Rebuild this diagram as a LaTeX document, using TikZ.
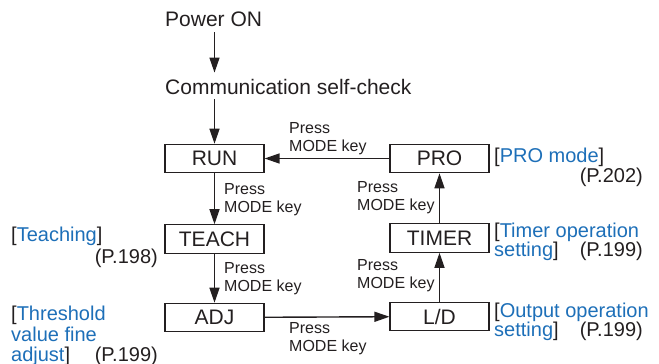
\documentclass[tikz,border=0pt]{standalone}
\usepackage{fontspec}
\setmainfont{Liberation Sans}
\usetikzlibrary{arrows.meta}
\definecolor{ink}{HTML}{231F20}
\definecolor{linkblue}{HTML}{1D6FB8}
\begin{document}
\begin{tikzpicture}[x=1pt,y=-1pt,
  every node/.style={inner sep=0pt, text=ink},
  maintext/.style={font=\fontsize{21}{24}\selectfont, anchor=base west},
  modebox/.style={draw=ink, line width=1.1pt, minimum width=99pt, minimum height=28.5pt, font=\fontsize{21}{24}\selectfont},
  presslbl/.style={font=\fontsize{16}{17.5}\selectfont, align=left, anchor=north west},
  note/.style={font=\fontsize{20}{21}\selectfont, anchor=base west},
  pref/.style={font=\fontsize{20}{21}\selectfont, anchor=base east},
  flow/.style={draw=ink, line width=1.4pt, -{Triangle[length=15pt,width=10pt]}},
]
\useasboundingbox (0,0) rectangle (659,364);

% start texts
\node[maintext] (power) at (165,27) {Power ON};
\node[maintext] (comm) at (165,94) {Communication self-check};

% mode boxes
\node[modebox] (run)   at (214.5,158.5) {RUN};
\node[modebox] (teach) at (214.5,239) {TEACH};
\node[modebox] (adj)   at (214.5,317.5) {ADJ};
\node[modebox] (pro)   at (439.5,158.5) {PRO};
\node[modebox] (timer) at (439.5,238) {TIMER};
\node[modebox] (ld)    at (439.5,316.5) {L/D};

% connectors
\draw[flow] ([yshift=-5pt]power.south -| run.north) -- ([yshift=6pt]comm.north -| run.north);
\draw[flow] ([yshift=-5pt]comm.south -| run.north) -- (run.north);
\draw[flow] (run) -- (teach);
\draw[flow] (teach) -- (adj);
\draw[flow] (adj) -- (ld);
\draw[flow] (ld) -- (timer);
\draw[flow] (timer) -- (pro);
\draw[flow] (pro) -- (run);

% press labels
\node[presslbl] (p1) at (224,183.5) {Press\\MODE key};
\node[presslbl] (p2) at (224,262.5) {Press\\MODE key};
\node[presslbl] (p3) at (289,322.5) {Press\\MODE key};
\node[presslbl] (p4) at (357,259.5) {Press\\MODE key};
\node[presslbl] (p5) at (357,181.5) {Press\\MODE key};
\node[presslbl] (p6) at (289,122.5) {Press\\MODE key};

% right annotations
\node[note] (n1) at (494,162) {[\textcolor{linkblue}{PRO mode}]};
\node[pref] (r1) at (643,182) {(P.202)};
\node[note] (n2) at (494,237) {[\textcolor{linkblue}{Timer operation}};
\node[note] (n3) at (494,256) {\textcolor{linkblue}{setting}]};
\node[pref] (r2) at (643,256) {(P.199)};
\node[note] (n4) at (494,317) {[\textcolor{linkblue}{Output operation}};
\node[note] (n5) at (494,336) {\textcolor{linkblue}{setting}]};
\node[pref] (r3) at (643,336) {(P.199)};

% left annotations
\node[note] (n6) at (11,241) {[\textcolor{linkblue}{Teaching}]};
\node[pref] (r4) at (158,263) {(P.198)};
\node[note] (n7) at (11,320) {[\textcolor{linkblue}{Threshold}};
\node[note] (n8) at (11,341) {\textcolor{linkblue}{value fine}};
\node[note] (n9) at (11,361) {\textcolor{linkblue}{adjust}]};
\node[pref] (r5) at (158,361) {(P.199)};
\end{tikzpicture}
\end{document}
